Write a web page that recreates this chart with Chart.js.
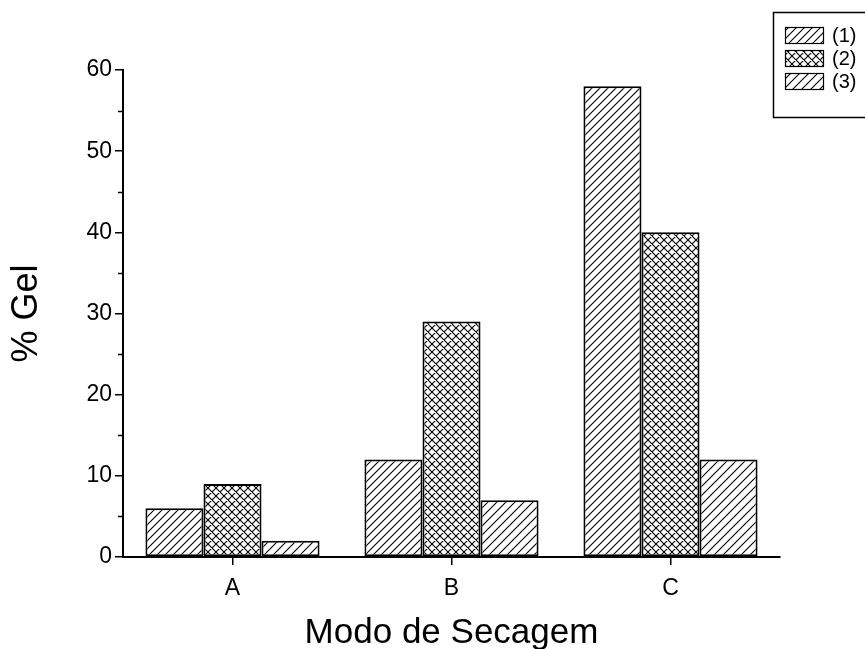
<!DOCTYPE html>
<html>
<head>
<meta charset="utf-8">
<script src="https://cdn.jsdelivr.net/npm/chart.js@4.4.1/dist/chart.umd.min.js"></script>
<style>
  html, body { margin: 0; padding: 0; background: #fff; }
  #wrap { width: 865px; height: 649px; }
</style>
</head>
<body>
<div id="wrap"><canvas id="chart" width="865" height="649"></canvas></div>
<script>
var categorias = ['A', 'B', 'C'];
var serie1 = [6, 12, 58];
var serie2 = [9, 29, 40];
var serie3 = [2, 7, 12];
var rotulos = ['(1)', '(2)', '(3)'];

var fonte = "'Liberation Sans', Arial, sans-serif";
var canvas = document.getElementById('chart');
var mainCtx = canvas.getContext('2d');

// padrão de hachura: "/" simples ou cruzada
function hachura(tam, cruzada) {
    var c = document.createElement('canvas');
    c.width = tam; c.height = tam;
    var ctx = c.getContext('2d');
    ctx.fillStyle = '#fff';
    ctx.fillRect(0, 0, tam, tam);
    ctx.strokeStyle = '#000';
    ctx.lineWidth = 1.1;
    ctx.beginPath();
    ctx.moveTo(-1, tam + 1); ctx.lineTo(tam + 1, -1);
    ctx.moveTo(-1, 1); ctx.lineTo(1, -1);
    ctx.moveTo(tam - 1, tam + 1); ctx.lineTo(tam + 1, tam - 1);
    if (cruzada) {
        ctx.moveTo(-1, -1); ctx.lineTo(tam + 1, tam + 1);
        ctx.moveTo(tam - 1, -1); ctx.lineTo(tam + 1, 1);
        ctx.moveTo(-1, tam - 1); ctx.lineTo(1, tam + 1);
    }
    ctx.stroke();
    return mainCtx.createPattern(c, 'repeat');
}

var padrao1 = hachura(8, false);
var padrao2 = hachura(8, true);
var padrao3 = hachura(9, false);

// ticks menores do eixo y (5, 15, ...)
var minorTicks = {
    id: 'minorTicks',
    afterDraw: function (chart) {
        var y = chart.scales.y;
        var ctx = chart.ctx;
        ctx.save();
        ctx.strokeStyle = '#000';
        ctx.lineWidth = 1.5;
        ctx.beginPath();
        for (var v = 5; v < 60; v += 10) {
            var py = Math.round(y.getPixelForValue(v)) + 0.5;
            ctx.moveTo(chart.chartArea.left - 5, py);
            ctx.lineTo(chart.chartArea.left, py);
        }
        ctx.stroke();
        ctx.restore();
    }
};

// legenda com moldura no canto superior direito
var legendaBox = {
    id: 'legendaBox',
    afterDraw: function (chart) {
        var ctx = chart.ctx;
        ctx.save();
        ctx.strokeStyle = '#000';
        ctx.lineWidth = 1.5;
        ctx.strokeRect(773.5, 12.5, 100, 105);
        ctx.font = '20px ' + fonte;
        ctx.textBaseline = 'middle';
        chart.data.datasets.forEach(function (ds, i) {
            var top = 27 + i * 23;
            ctx.fillStyle = ds.backgroundColor;
            ctx.fillRect(785, top, 38, 16);
            ctx.lineWidth = 1.2;
            ctx.strokeRect(785.5, top + 0.5, 38, 16);
            ctx.fillStyle = '#000';
            ctx.fillText(ds.label, 832, top + 9);
        });
        ctx.restore();
    }
};

function dataset(label, data, padrao) {
    return {
        label: label,
        data: data,
        backgroundColor: padrao,
        borderColor: '#000',
        borderWidth: 2,
        borderSkipped: false,
        barPercentage: 1,
        categoryPercentage: 0.795
    };
}

var config = {
    type: 'bar',
    data: {
        labels: categorias,
        datasets: [
            dataset(rotulos[0], serie1, padrao1),
            dataset(rotulos[1], serie2, padrao2),
            dataset(rotulos[2], serie3, padrao3)
        ]
    },
    options: {
        responsive: false,
        animation: false,
        layout: { padding: { top: 70, right: 85, left: 0, bottom: 0 } },
        plugins: {
            legend: { display: false },
            tooltip: { enabled: false }
        },
        scales: {
            x: {
                offset: true,
                grid: { display: true, drawOnChartArea: false, offset: false, tickLength: 8, color: '#000', lineWidth: 1.5 },
                border: { display: true, color: '#000', width: 2 },
                ticks: { color: '#000', font: { family: fonte, size: 23 }, padding: 10 },
                title: { display: true, text: 'Modo de Secagem', color: '#000', font: { family: fonte, size: 35 }, padding: { top: 0, bottom: -5 } },
                afterFit: function (s) { s.height = 92; }
            },
            y: {
                min: 0,
                max: 60,
                grid: { display: true, drawOnChartArea: false, tickLength: 8, color: '#000', lineWidth: 1.5 },
                border: { display: true, color: '#000', width: 2 },
                ticks: { stepSize: 10, color: '#000', font: { family: fonte, size: 23 }, padding: 3 },
                title: { display: true, text: '% Gel', color: '#000', font: { family: fonte, size: 36 }, padding: { top: 5, bottom: 0 } },
                afterFit: function (s) { s.width = 123; }
            }
        }
    },
    plugins: [minorTicks, legendaBox]
};

var chartvar = new Chart(canvas, config);
</script>
</body>
</html>
